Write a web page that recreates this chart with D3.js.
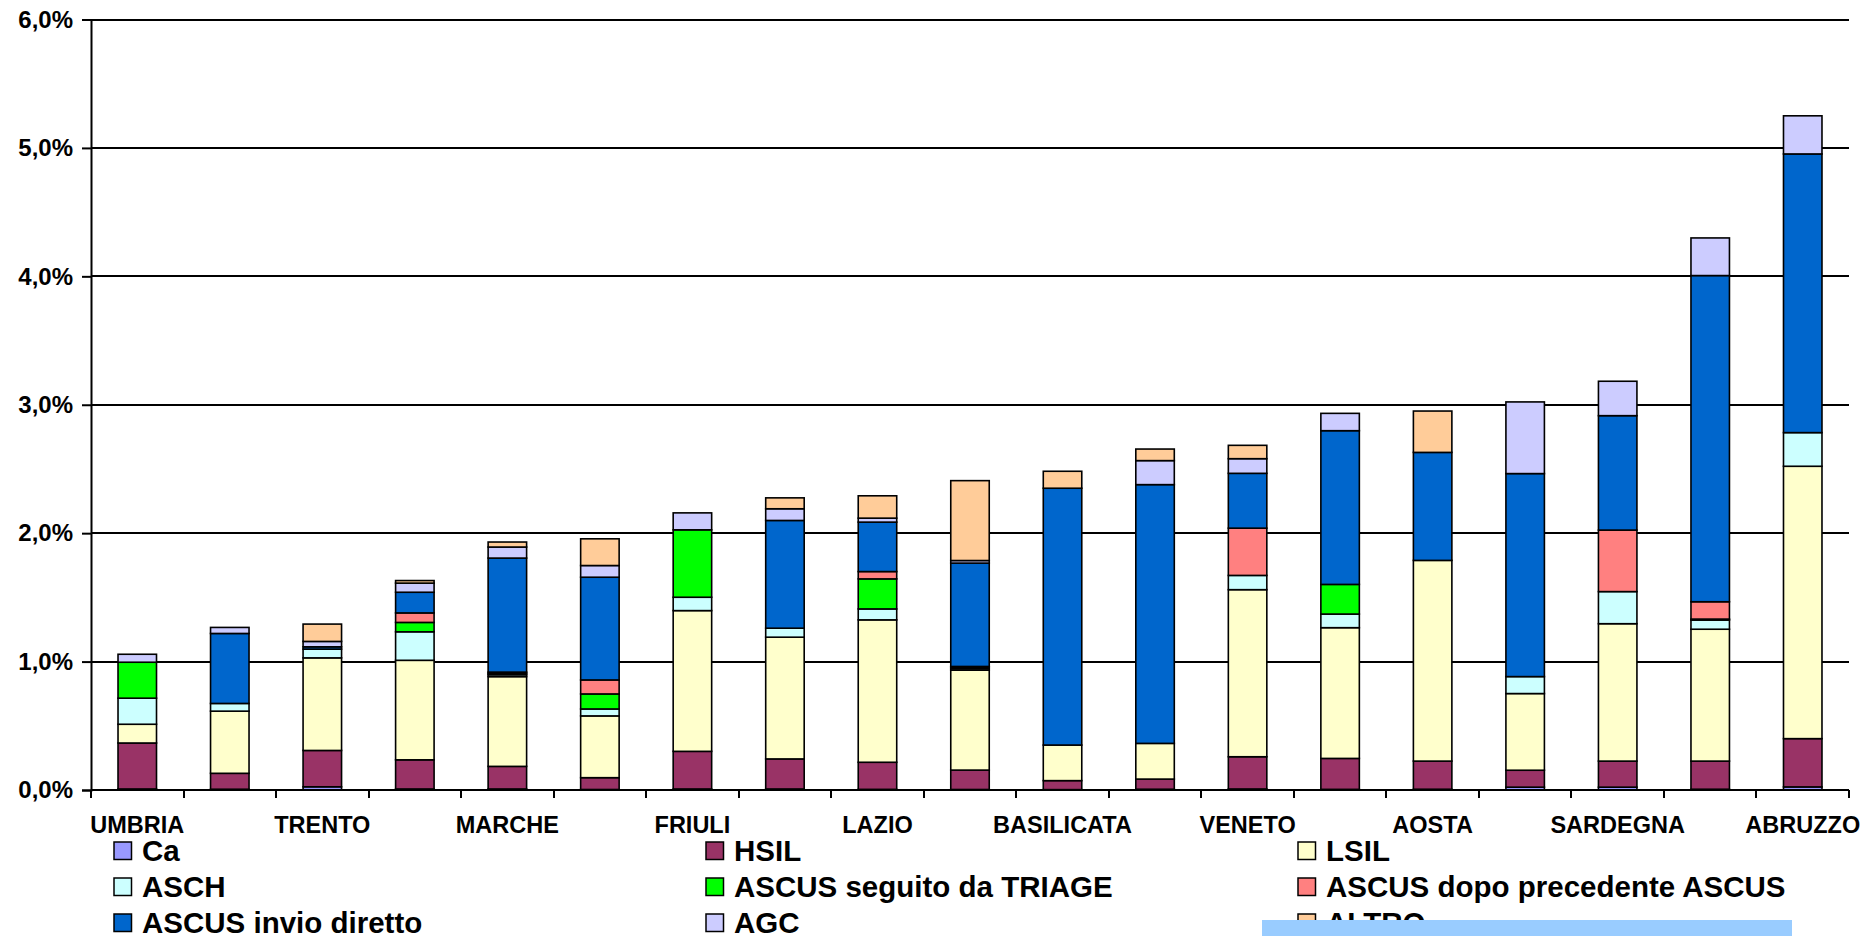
<!DOCTYPE html>
<html>
<head>
<meta charset="utf-8">
<script src="https://cdn.jsdelivr.net/npm/d3@7"></script>
<style>
  html, body { margin: 0; padding: 0; background: #ffffff; }
  svg { display: block; }
  text { font-family: "Liberation Sans", Arial, Helvetica, sans-serif; font-weight: bold; fill: #000; }
</style>
</head>
<body>
<svg id="chart" width="1876" height="936"></svg>
<script>
// Regions along the x axis (only every other one carries a printed label)
const regions = ["UMBRIA", "", "TRENTO", "", "MARCHE", "", "FRIULI", "", "LAZIO", "",
                 "BASILICATA", "", "VENETO", "", "AOSTA", "", "SARDEGNA", "", "ABRUZZO"];

// Stack order, bottom to top
const seriesNames = ["Ca", "HSIL", "LSIL", "ASCH", "ASCUS seguito da TRIAGE",
                     "ASCUS dopo precedente ASCUS", "ASCUS invio diretto", "AGC", "ALTRO"];
const seriesColors = ["#9999FF", "#993366", "#FFFFCC", "#CCFFFF", "#00FF00",
                      "#FF8080", "#0066CC", "#CCCCFF", "#FFCC99"];

// Values in percent, one per region
const ca     = [0.008, 0.006, 0.025, 0.008, 0.008, 0.004, 0.008, 0.008, 0.005, 0.004, 0.003, 0.006, 0.008, 0.005, 0.006, 0.022, 0.022, 0.006, 0.024];
const hsil   = [0.358, 0.124, 0.283, 0.227, 0.176, 0.092, 0.293, 0.234, 0.211, 0.151, 0.070, 0.079, 0.251, 0.241, 0.219, 0.132, 0.203, 0.219, 0.376];
const lsil   = [0.146, 0.484, 0.721, 0.775, 0.699, 0.481, 1.096, 0.948, 1.109, 0.778, 0.277, 0.278, 1.301, 1.018, 1.563, 0.597, 1.070, 1.027, 2.121];
const asch   = [0.203, 0.060, 0.068, 0.222, 0.015, 0.054, 0.104, 0.070, 0.085, 0.013, 0, 0, 0.111, 0.106, 0, 0.132, 0.250, 0.071, 0.262];
const triage = [0.280, 0, 0, 0.073, 0.010, 0.117, 0.525, 0, 0.234, 0.012, 0, 0, 0, 0.231, 0, 0, 0, 0.008, 0];
const dopo   = [0, 0, 0, 0.074, 0.010, 0.109, 0, 0, 0.057, 0.004, 0, 0, 0.368, 0, 0, 0, 0.479, 0.135, 0];
const invio  = [0, 0.545, 0.018, 0.161, 0.888, 0.800, 0, 0.839, 0.385, 0.805, 2.000, 2.015, 0.427, 1.197, 0.841, 1.581, 0.891, 2.540, 2.170];
const agc    = [0.062, 0.047, 0.042, 0.071, 0.086, 0.091, 0.132, 0.091, 0.031, 0.020, 0, 0.187, 0.114, 0.135, 0, 0.558, 0.268, 0.293, 0.297];
const altro  = [0, 0, 0.135, 0.020, 0.039, 0.208, 0, 0.085, 0.174, 0.622, 0.132, 0.090, 0.104, 0, 0.322, 0, 0, 0, 0];

const yTicks = [0, 1, 2, 3, 4, 5, 6];

const seriesValues = [ca, hsil, lsil, asch, triage, dopo, invio, agc, altro];

// Table for the stack layout
const rows = regions.map((r, i) => {
  const row = { idx: i };
  seriesNames.forEach((s, k) => { row[s] = seriesValues[k][i]; });
  return row;
});

const svg = d3.select("#chart");
const plot = { left: 91, right: 1849, top: 19.5, bottom: 790 };

const x = d3.scaleBand()
  .domain(d3.range(regions.length))
  .range([plot.left, plot.right])
  .paddingInner(0.584)
  .paddingOuter(0.292);

const y = d3.scaleLinear().domain([0, 6]).range([plot.bottom, plot.top]);
// pixel-aligned position for crisp 1.5px rules
const crisp = v => Math.round(v);

const itLocale = d3.formatLocale({ decimal: ",", thousands: ".", grouping: [3], currency: ["", "€"] });
const fmt = itLocale.format(".1f");

// Horizontal gridlines
svg.append("g").selectAll("line")
  .data(yTicks.filter(t => t > 0))
  .join("line")
  .attr("x1", plot.left).attr("x2", plot.right)
  .attr("y1", d => crisp(y(d))).attr("y2", d => crisp(y(d)))
  .attr("stroke", "#000").attr("stroke-width", 2);

// Stacked bars
const stack = d3.stack().keys(seriesNames);
const layers = stack(rows);

svg.append("g").selectAll("g")
  .data(layers)
  .join("g")
  .attr("fill", (d, k) => seriesColors[k])
  .selectAll("rect")
  .data(d => d.filter(p => p[1] - p[0] > 0))
  .join("rect")
  .attr("x", d => x(d.data.idx))
  .attr("width", x.bandwidth())
  .attr("y", d => y(d[1]))
  .attr("height", d => y(d[0]) - y(d[1]))
  .attr("stroke", "#000")
  .attr("stroke-width", 1.6);

// Y axis
const yAxis = svg.append("g")
  .attr("transform", `translate(${plot.left},0)`)
  .call(d3.axisLeft(y).tickValues(yTicks).tickSize(9).tickPadding(9)
    .tickFormat(d => fmt(d) + "%"));
yAxis.select(".domain").attr("stroke", "#000").attr("stroke-width", 2);
yAxis.selectAll(".tick line").attr("stroke", "#000").attr("stroke-width", 2);
yAxis.selectAll(".tick text")
  .attr("font-size", "24px")
  .style("font-family", '"Liberation Sans", Arial, sans-serif')
  .style("font-weight", "bold")
  .attr("fill", "#000");

// X axis baseline and category separators
const step = x.step();
const boundaries = d3.range(regions.length + 1).map(i => plot.left + i * step);
const xg = svg.append("g");
xg.append("line")
  .attr("x1", plot.left).attr("x2", plot.right)
  .attr("y1", y(0)).attr("y2", y(0))
  .attr("stroke", "#000").attr("stroke-width", 2);
xg.selectAll("line.sep")
  .data(boundaries)
  .join("line")
  .attr("class", "sep")
  .attr("x1", d => crisp(d)).attr("x2", d => crisp(d))
  .attr("y1", y(0)).attr("y2", y(0) + 8)
  .attr("stroke", "#000").attr("stroke-width", 2);

xg.selectAll("text")
  .data(regions.map((r, i) => ({ r, i })).filter(d => d.r !== ""))
  .join("text")
  .attr("x", d => x(d.i) + x.bandwidth() / 2)
  .attr("y", 833)
  .attr("text-anchor", "middle")
  .attr("font-size", "23.5px")
  .text(d => d.r);

// Legend: three columns, three rows
const legendCols = [114, 706, 1298];
const legendRows = [842, 878, 914];
const legend = svg.append("g");
seriesNames.forEach((name, k) => {
  const cx = legendCols[k % 3];
  const cy = legendRows[Math.floor(k / 3)];
  legend.append("rect")
    .attr("x", cx).attr("y", cy)
    .attr("width", 17.5).attr("height", 17.5)
    .attr("fill", seriesColors[k])
    .attr("stroke", "#000").attr("stroke-width", 1.5);
  legend.append("text")
    .attr("x", cx + 28).attr("y", cy + 18.5)
    .attr("font-size", "29.5px")
    .text(name);
});

// Light blue text box lying over the bottom of the legend
svg.append("rect")
  .attr("x", 1262).attr("y", 920)
  .attr("width", 530).attr("height", 16)
  .attr("fill", "#99CCFF");
</script>
</body>
</html>
